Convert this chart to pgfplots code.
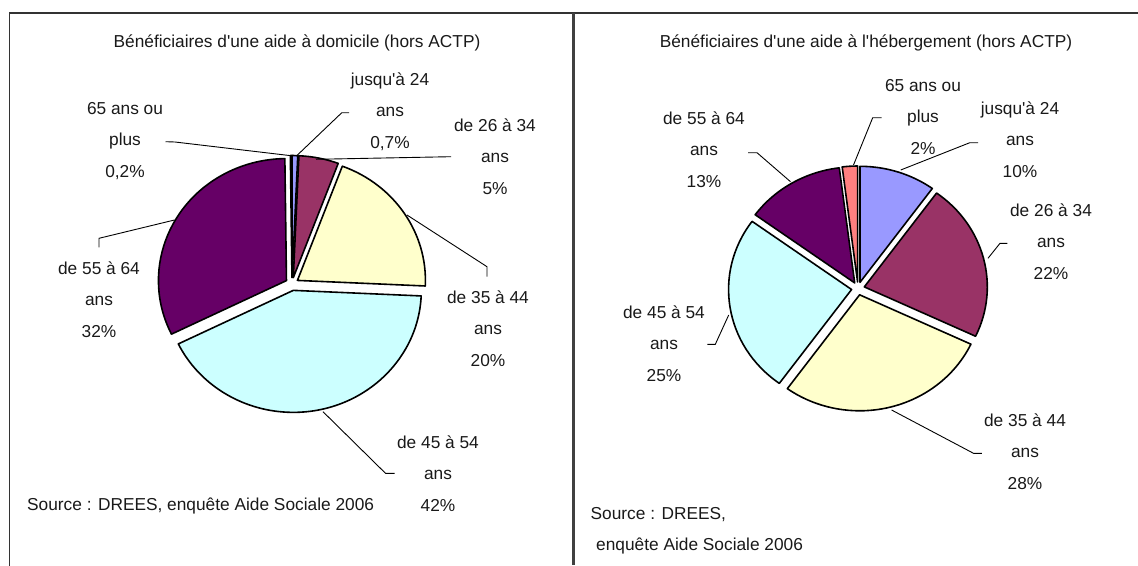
\documentclass[border=0pt]{standalone}
\usepackage{pgfplots}
\pgfplotsset{compat=1.18}
\usepackage{fontspec}
\newfontfamily\lab{Liberation Sans}
\newcommand\lf{\lab\fontsize{17.3}{20}\selectfont}
\definecolor{lav}{HTML}{9999FF}
\definecolor{mar}{HTML}{993366}
\definecolor{yel}{HTML}{FFFFCC}
\definecolor{cya}{HTML}{CCFFFF}
\definecolor{pur}{HTML}{660066}
\definecolor{cor}{HTML}{FF8080}
\tikzset{lb/.style={font=\lf, inner sep=0pt, text=black!90}}

% pie data: value (%) / colour, clockwise from 12 o'clock
\def\leftpie{0.7/lav, 5/mar, 20/yel, 42/cya, 32/pur, 0.2/cor}
\def\leftsum{99.9}
\def\rightpie{10/lav, 22/mar, 28/yel, 25/cya, 13/pur, 2/cor}
\def\rightsum{100}

% #1 list, #2 sum, #3 cx, #4 cy, #5 rx, #6 ry, #7 explosion
\newcommand\drawpie[7]{%
  \xdef\acc{0}%
  \foreach \v/\col in #1 {%
    \pgfmathsetmacro\sa{90-\acc/#2*360}%
    \pgfmathsetmacro\ea{90-(\acc+\v)/#2*360}%
    \pgfmathsetmacro\ma{(\sa+\ea)/2}%
    \fill[fill=\col, draw=black, line width=1.6pt, line join=round]
      (axis cs:#3,#4) ++(\ma:#7pt) -- ++(\sa:#5pt and #6pt)
      arc[start angle=\sa, end angle=\ea, x radius=#5pt, y radius=#6pt] -- cycle;
    \pgfmathsetmacro\tmp{\acc+\v}\xdef\acc{\tmp}%
  }%
}
% three-line label: x, first baseline, lines
\newcommand\lbl[5]{%
  \pgfmathsetmacro\yb{#2+31.5}\pgfmathsetmacro\yc{#2+63}%
  \node[lb, anchor=base] at (axis cs:#1,#2) {#3};
  \node[lb, anchor=base] at (axis cs:#1,\yb) {#4};
  \node[lb, anchor=base] at (axis cs:#1,\yc) {#5};
}

\begin{document}
\lf
\begin{tikzpicture}
\path[use as bounding box] (0,0) rectangle (1138pt,565pt);
\begin{axis}[
  at={(0,0)}, anchor=south west,
  scale only axis, width=1138pt, height=565pt,
  xmin=0, xmax=1138, ymin=0, ymax=565, y dir=reverse,
  hide axis, clip=false,
]
\pgfplotsextra{
  % frame
  \draw[line width=1.6pt, black!80, line cap=rect] (axis cs:9.5,565) -- (axis cs:9.5,13) -- (axis cs:1138,13);
  \draw[line width=3pt, black!75] (axis cs:573.5,13) -- (axis cs:573.5,565);

  % titles
  \node[lb, anchor=base] at (axis cs:297,47.5) {Bénéficiaires d'une aide à domicile (hors ACTP)};
  \node[lb, anchor=base] at (axis cs:866,47.5) {Bénéficiaires d'une aide à l'hébergement (hors ACTP)};

  % pies
  \drawpie{\leftpie}{\leftsum}{292}{284}{128}{122}{6.5}
  \drawpie{\rightpie}{\rightsum}{858}{288.5}{123}{116}{6.5}

  % leader lines, left
  \begin{scope}[line width=0.9pt, black]
  \draw (axis cs:296.4,156) -- (axis cs:341.8,112.7) -- (axis cs:349,112.7);
  \draw (axis cs:165.5,141.7) -- (axis cs:175,142) -- (axis cs:291,155.7);
  \draw (axis cs:316,159.3) -- (axis cs:451,156.7);
  \draw (axis cs:407,215) -- (axis cs:487,266.7) -- (axis cs:487,276.7);
  \draw (axis cs:323,411.7) -- (axis cs:385.5,473.3) -- (axis cs:394.5,473.3);
  \draw (axis cs:174.5,220) -- (axis cs:99,238.3) -- (axis cs:99,247.3);
  % leader lines, right
  \draw (axis cs:853.5,165) -- (axis cs:872.7,117.7) -- (axis cs:881.5,117.7);
  \draw (axis cs:900.7,170) -- (axis cs:969.8,142.7) -- (axis cs:978.2,142.7);
  \draw (axis cs:988,258.3) -- (axis cs:1000,243.3) -- (axis cs:1007.3,243.3);
  \draw (axis cs:790.5,181.7) -- (axis cs:757,152.7) -- (axis cs:748,152.7);
  \draw (axis cs:728.7,315) -- (axis cs:715.3,344.3) -- (axis cs:707.3,344.3);
  \draw (axis cs:891.6,410) -- (axis cs:973.5,453.3) -- (axis cs:981.8,453.3);
  \end{scope}

  % labels, left
  \lbl{390}{85}{jusqu'à 24}{ans}{0,7\%}
  \lbl{125}{114}{65 ans ou}{plus}{0,2\%}
  \lbl{495}{131}{de 26 à 34}{ans}{5\%}
  \lbl{488}{303}{de 35 à 44}{ans}{20\%}
  \lbl{438}{448}{de 45 à 54}{ans}{42\%}
  \lbl{99}{274}{de 55 à 64}{ans}{32\%}
  % labels, right
  \lbl{923}{91}{65 ans ou}{plus}{2\%}
  \lbl{1020}{114}{jusqu'à 24}{ans}{10\%}
  \lbl{1051}{216}{de 26 à 34}{ans}{22\%}
  \lbl{704}{124}{de 55 à 64}{ans}{13\%}
  \lbl{664}{318}{de 45 à 54}{ans}{25\%}
  \lbl{1025}{426}{de 35 à 44}{ans}{28\%}

  % sources
  \node[lb, anchor=base west] at (axis cs:27,510) {Source : DREES, enquête Aide Sociale 2006};
  \node[lb, anchor=base west] at (axis cs:590.5,519) {Source : DREES,};
  \node[lb, anchor=base west] at (axis cs:596,550) {enquête Aide Sociale 2006};
}
\end{axis}
\end{tikzpicture}
\end{document}
